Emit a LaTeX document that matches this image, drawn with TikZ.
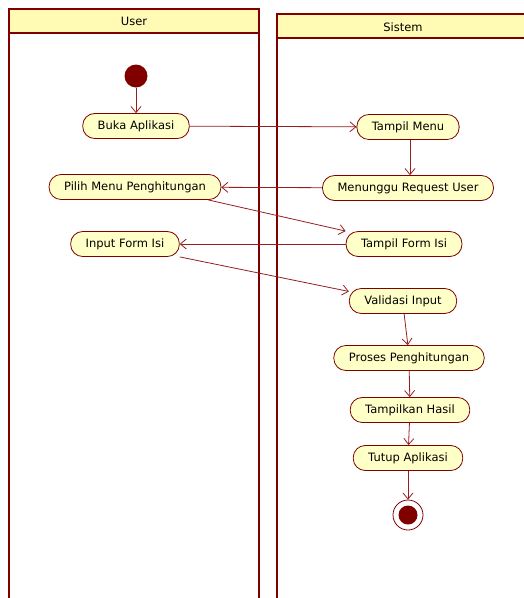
\documentclass[tikz,border=0pt]{standalone}
\usepackage{fontspec}
\setmainfont{DejaVu Sans}
\usepackage{tikz}
\usetikzlibrary{arrows.meta}
\definecolor{umlred}{RGB}{128,0,0}
\definecolor{umlline}{RGB}{150,30,30}
\definecolor{umlfill}{RGB}{255,255,200}
\definecolor{umlhead}{RGB}{255,250,180}
\tikzstyle{lane} = [draw=umlred, line width=2pt]
\tikzstyle{head} = [lane, fill=umlhead]
\tikzstyle{action} = [draw=umlred, fill=umlfill, line width=0.8pt, rounded corners=12pt, minimum height=25pt, inner xsep=15pt, font=\fontsize{11.5}{13}\selectfont]
\tikzstyle{flow} = [draw=umlline, line width=0.8pt, -{Straight Barb[length=6pt, width=10pt]}]
\tikzstyle{start} = [circle, fill=umlred, minimum size=23pt, inner sep=0pt]
\tikzstyle{stop} = [circle, draw=umlred, line width=0.8pt, fill=white, minimum size=30pt, inner sep=0pt]

\begin{document}
\begin{tikzpicture}[x=1pt, y=-1pt]
	\useasboundingbox (0,0) rectangle (523,598);

	% swimlanes
	\draw[head] (9,9) rectangle (259,33);
	\node[font=\fontsize{11.5}{13}\selectfont] (user) at (134,21) {User};
	\draw[lane] (9,33) -- (9,600) (259,33) -- (259,600);
	\draw[head] (277,14) rectangle (530,38);
	\node[font=\fontsize{11.5}{13}\selectfont] (sistem) at (403,27) {Sistem};
	\draw[lane] (277,38) -- (277,600);

	% user lane
	\node[start] (begin) at (136,76) {};
	\node[action] (buka) at (136,126) {Buka Aplikasi};
	\node[action] (pilih) at (135,187) {Pilih Menu Penghitungan};
	\node[action] (input) at (125,244) {Input Form Isi};

	% sistem lane
	\node[action] (menu) at (408,127) {Tampil Menu};
	\node[action] (tunggu) at (408,188) {Menunggu Request User};
	\node[action] (form) at (404,244) {Tampil Form Isi};
	\node[action] (valid) at (403,301) {Validasi Input};
	\node[action] (proses) at (409,358) {Proses Penghitungan};
	\node[action] (hasil) at (410,410) {Tampilkan Hasil};
	\node[action] (tutup) at (408,458) {Tutup Aplikasi};
	\node[stop] (end) at (408,515) {};
	\node[circle, fill=umlred, minimum size=19pt, inner sep=0pt] (endin) at (end) {};

	% transitions
	\draw[flow] (begin) -- (buka);
	\draw[flow] (buka) -- (menu);
	\draw[flow] (menu.south -| 410,0) -- (tunggu.north -| 410,0);
	\draw[flow] (tunggu) -- (pilih);
	\draw[flow] (pilih.-10) -- (form.north west);
	\draw[flow] (form) -- (input);
	\draw[flow] (input.south east) -- (valid.170);
	\draw[flow] (valid.-85) -- (proses.95);
	\draw[flow] (proses) -- (hasil);
	\draw[flow] (hasil) -- (tutup);
	\draw[flow] (tutup) -- (end);
\end{tikzpicture}
\end{document}
